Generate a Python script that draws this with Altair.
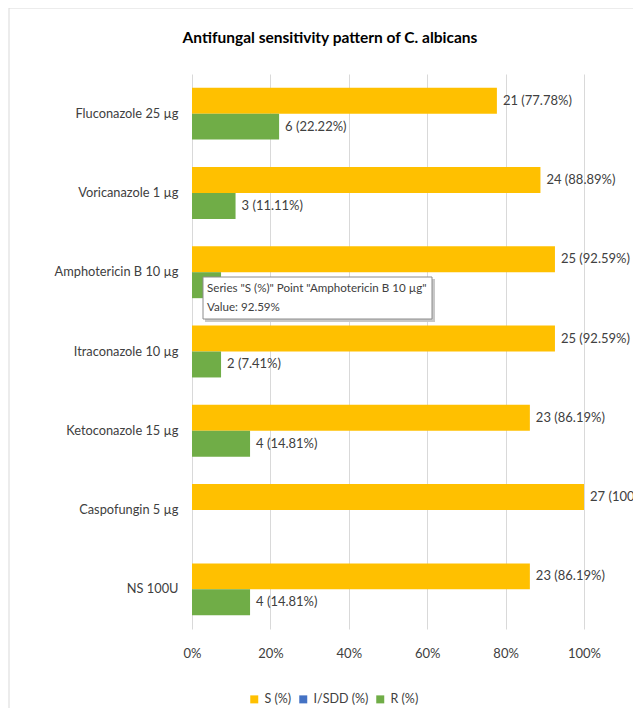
import altair as alt
import pandas as pd

categories = ["Fluconazole 25 µg", "Voricanazole 1 µg", "Amphotericin B 10 µg",
              "Itraconazole 10 µg", "Ketoconazole 15 µg", "Caspofungin 5 µg", "NS 100U"]
s_counts = [21, 24, 25, 25, 23, 27, 23]
s_pct = [77.78, 88.89, 92.59, 92.59, 86.19, 100, 86.19]
r_counts = [6, 3, 2, 2, 4, 0, 4]
r_pct = [22.22, 11.11, 7.41, 7.41, 14.81, 0, 14.81]
series = ["S (%)", "I/SDD (%)", "R (%)"]
colors = ["#FFC000", "#4472C4", "#70AD47"]
x_ticks = [0, 20, 40, 60, 80, 100]

rows = []
for i, c in enumerate(categories):
    rows.append({"cat": c, "series": "S (%)", "pct": s_pct[i],
                 "label": f"{s_counts[i]} ({s_pct[i]:g}%)"})
    rows.append({"cat": c, "series": "R (%)", "pct": r_pct[i],
                 "label": f"{r_counts[i]} ({r_pct[i]:g}%)" if r_counts[i] > 0 else ""})
df = pd.DataFrame(rows)

W, H = 392, 555
FONT = "Lato"
TXT = "#404040"

y_enc = alt.Y("cat:N", sort=categories, title=None,
              scale=alt.Scale(paddingInner=0.345, paddingOuter=0.1725),
              axis=alt.Axis(domain=False, ticks=False, labelPadding=14,
                            labelFontSize=12.8, labelFont=FONT, labelColor=TXT))
yoff = alt.YOffset("series:N", sort=["S (%)", "R (%)"],
                   scale=alt.Scale(domain=["S (%)", "R (%)"], paddingInner=0, paddingOuter=0))
x_enc = alt.X("pct:Q", title=None, scale=alt.Scale(domain=[0, 100], nice=False),
              axis=alt.Axis(values=x_ticks, labelExpr="datum.value + '%'", domain=False,
                            ticks=False, grid=True, gridColor="#d9d9d9", labelPadding=18,
                            labelFlush=False, labelFontSize=13, labelFont=FONT, labelColor=TXT))

frame = alt.Chart(pd.DataFrame({"a": [0]})).mark_rect(
    fillOpacity=0, stroke="#d9d9d9", strokeWidth=1).encode(
    x=alt.value(-183), x2=alt.value(W + 200), y=alt.value(-66), y2=alt.value(H + 300))

bars = alt.Chart(df).mark_bar().encode(
    y=y_enc, yOffset=yoff, x=x_enc,
    color=alt.Color("series:N", scale=alt.Scale(domain=series, range=colors),
                    legend=alt.Legend(title=None, orient="none", direction="horizontal",
                                      legendX=56, legendY=619, symbolType="square",
                                      symbolSize=64, symbolStrokeWidth=0,
                                      labelFontSize=12.5, labelFont=FONT, labelColor=TXT,
                                      labelOffset=4, columnPadding=5, padding=0)))

labels = alt.Chart(df).mark_text(align="left", baseline="middle", dx=6, fontSize=13,
                                 font=FONT, color=TXT).encode(
    y=alt.Y("cat:N", sort=categories), yOffset=yoff, x="pct:Q", text="label:N")

title = alt.Chart(pd.DataFrame({"t": ["Antifungal sensitivity pattern of C. albicans"]})).mark_text(
    fontSize=15.5, fontWeight="bold", font=FONT, color="#000000", baseline="alphabetic",
    align="center").encode(x=alt.value(138), y=alt.value(-31), text="t:N")

# tooltip overlay captured in the screenshot
tip_shadow = alt.Chart(pd.DataFrame({"a": [0]})).mark_rect(fill="#c8c8c8").encode(
    x=alt.value(13), x2=alt.value(243), y=alt.value(205), y2=alt.value(248))
tip_box = alt.Chart(pd.DataFrame({"a": [0]})).mark_rect(
    fill="white", stroke="#8c8c8c", strokeWidth=1).encode(
    x=alt.value(11), x2=alt.value(240), y=alt.value(203), y2=alt.value(245))
tip_text = alt.Chart(pd.DataFrame({"t": ['Series "S (%)" Point "Amphotericin B 10 µg"', "Value: 92.59%"],
                                   "yy": [218, 237]})).mark_text(
    align="left", baseline="alphabetic", fontSize=11.6, font=FONT, color=TXT).encode(
    x=alt.value(15), y=alt.Y("yy:Q", scale=None), text="t:N")

chart = alt.layer(frame, bars, labels, title, tip_shadow, tip_box, tip_text).properties(
    width=W, height=H,
    autosize=alt.AutoSizeParams(type="none"),
    padding={"left": 184, "top": 66, "right": 49, "bottom": 79},
    background="white",
).configure_view(stroke=None)

chart.save("out.html", embed_options={"renderer": "svg", "actions": False})
